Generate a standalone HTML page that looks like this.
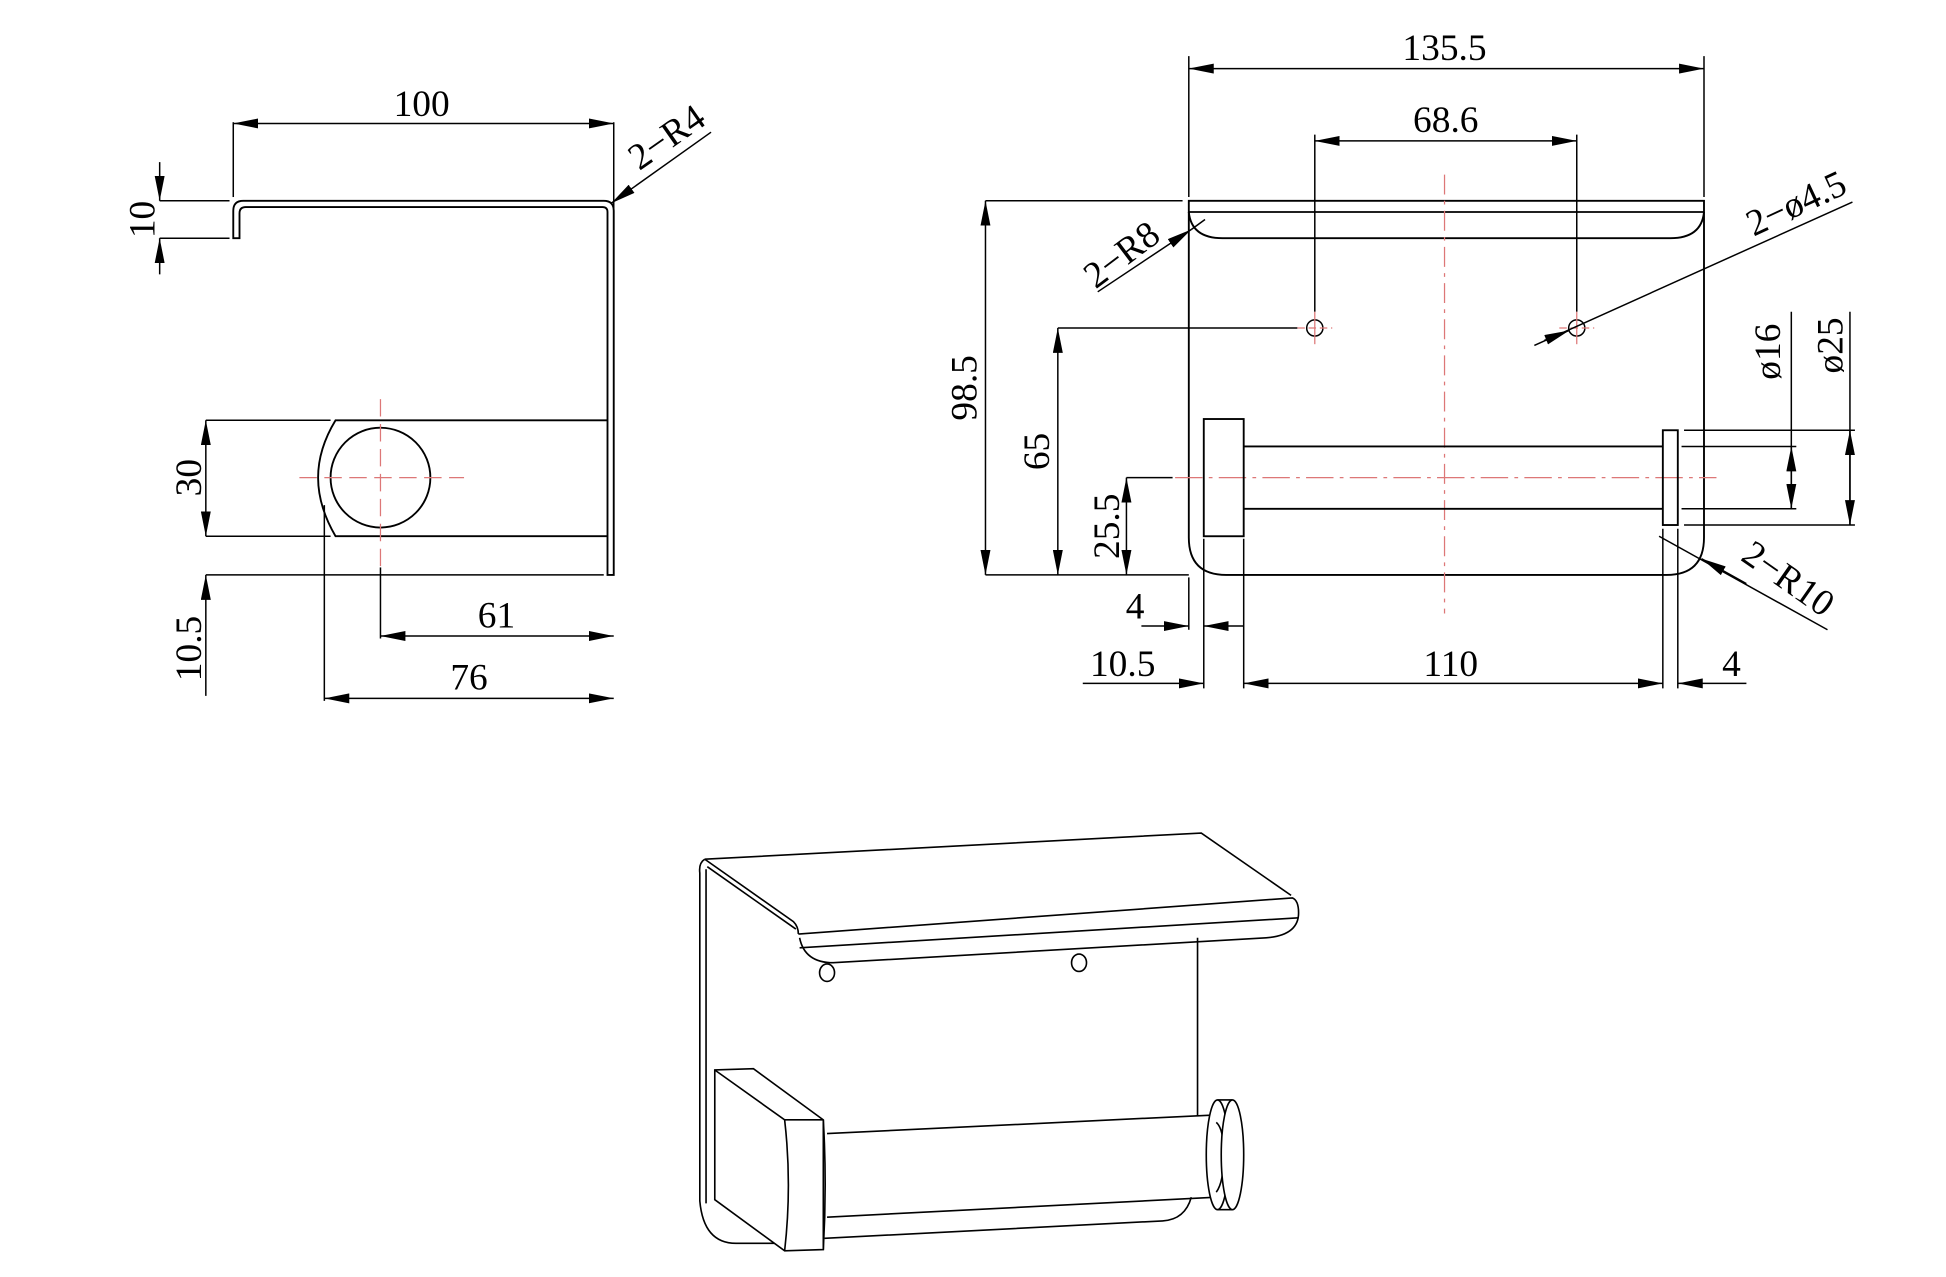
<!DOCTYPE html>
<html><head><meta charset="utf-8"><style>
html,body{margin:0;padding:0;background:#fff;}
svg{display:block;}
</style></head><body>
<svg width="1946" height="1277" viewBox="0 0 1560 1024" preserveAspectRatio="none" xmlns="http://www.w3.org/2000/svg">
<defs>
<marker id="a" viewBox="0 0 20 8" refX="20" refY="4" markerWidth="20" markerHeight="8" orient="auto-start-reverse" markerUnits="userSpaceOnUse"><path d="M0,0 L20,4 L0,8 z" fill="#000"/></marker>
</defs>
<g font-family="'Liberation Serif', 'DejaVu Serif', serif" font-size="30" font-weight="normal" fill="#000" stroke="none">
<text x="338" y="93" text-anchor="middle">100</text>
<text transform="translate(124,176) rotate(-90)" text-anchor="middle">10</text>
<text transform="translate(540,118) rotate(-35)" text-anchor="middle">2−R4</text>
<text transform="translate(161,383) rotate(-90)" text-anchor="middle">30</text>
<text transform="translate(161,520) rotate(-90)" text-anchor="middle">10.5</text>
<text x="398" y="503" text-anchor="middle">61</text>
<text x="376" y="553" text-anchor="middle">76</text>
<text x="1158" y="48" text-anchor="middle">135.5</text>
<text x="1159" y="106" text-anchor="middle">68.6</text>
<text transform="translate(783,311) rotate(-90)" text-anchor="middle">98.5</text>
<text transform="translate(841,362) rotate(-90)" text-anchor="middle">65</text>
<text transform="translate(897,422) rotate(-90)" text-anchor="middle">25.5</text>
<text x="910" y="496" text-anchor="middle">4</text>
<text x="900" y="542" text-anchor="middle">10.5</text>
<text x="1163" y="542" text-anchor="middle">110</text>
<text x="1388" y="542" text-anchor="middle">4</text>
<text transform="translate(1427,282) rotate(-90)" text-anchor="middle">ø16</text>
<text transform="translate(1477,277) rotate(-90)" text-anchor="middle">ø25</text>
<text transform="translate(905,212) rotate(-37)" text-anchor="middle">2−R8</text>
<text transform="translate(1444,172) rotate(-25)" text-anchor="middle">2−ø4.5</text>
<text transform="translate(1428,472) rotate(35)" text-anchor="middle">2−R10</text>
</g>
<g fill="none" stroke="#000" stroke-width="1.2">
<!-- LEFT VIEW -->
<line x1="187" y1="98" x2="187" y2="158"/>
<line x1="492" y1="98" x2="492" y2="458"/>
<line x1="187" y1="99" x2="492" y2="99" marker-start="url(#a)" marker-end="url(#a)"/>
<path d="M187,191 L187,169 Q187,161 195,161 L484,161 Q492,161 492,169 L492,461 L487,461 L487,170 Q487,166 483,166 L197,166 Q192,166 192,171 L192,191 Z" stroke-width="1.5"/>
<line x1="128" y1="161" x2="184" y2="161"/>
<line x1="128" y1="191" x2="184" y2="191"/>
<line x1="128" y1="130" x2="128" y2="161" marker-end="url(#a)"/>
<line x1="128" y1="220" x2="128" y2="191" marker-end="url(#a)"/>
<line x1="490" y1="163" x2="570" y2="106" marker-start="url(#a)"/>
<path d="M487,337 L269,337 Q255,360 255,383 Q255,406 269,430 L487,430" stroke-width="1.5"/>
<circle cx="305" cy="383" r="40" stroke-width="1.5"/>
<g stroke="#d77" stroke-dasharray="14,6" stroke-width="1"><line x1="240" y1="383" x2="372" y2="383"/><line x1="305" y1="320" x2="305" y2="455"/></g>
<line x1="165" y1="337" x2="265" y2="337"/>
<line x1="165" y1="430" x2="265" y2="430"/>
<line x1="165" y1="337" x2="165" y2="430" marker-start="url(#a)" marker-end="url(#a)"/>
<line x1="165" y1="461" x2="484" y2="461"/>
<line x1="165" y1="558" x2="165" y2="461" marker-end="url(#a)"/>
<line x1="305" y1="455" x2="305" y2="512"/>
<line x1="260" y1="405" x2="260" y2="562"/>
<line x1="305" y1="510" x2="492" y2="510" marker-start="url(#a)" marker-end="url(#a)"/>
<line x1="260" y1="560" x2="492" y2="560" marker-start="url(#a)" marker-end="url(#a)"/>

<!-- RIGHT VIEW -->
<line x1="953" y1="45" x2="953" y2="158"/>
<line x1="1366" y1="45" x2="1366" y2="158"/>
<line x1="953" y1="55" x2="1366" y2="55" marker-start="url(#a)" marker-end="url(#a)"/>
<line x1="1054" y1="108" x2="1054" y2="250"/>
<line x1="1264" y1="108" x2="1264" y2="250"/>
<line x1="1054" y1="113" x2="1264" y2="113" marker-start="url(#a)" marker-end="url(#a)"/>
<path d="M953,161 L1366,161 L1366,170 L953,170 Z" stroke-width="1.5"/>
<path d="M953,170 Q955,191 980,191 L1339,191 Q1364,191 1366,170" stroke-width="1.5"/>
<path d="M953,170 L953,431 Q953,461 983,461 L1336,461 Q1366,461 1366,431 L1366,170" stroke-width="1.5"/>
<circle cx="1054" cy="263" r="6.5"/>
<circle cx="1264" cy="263" r="6.5"/>
<g stroke="#d77" stroke-width="1"><line x1="1040" y1="263" x2="1068" y2="263" stroke-dasharray="6,3"/><line x1="1250" y1="263" x2="1278" y2="263" stroke-dasharray="6,3"/><line x1="1054" y1="250" x2="1054" y2="276"/><line x1="1264" y1="250" x2="1264" y2="276"/>
<line x1="1158" y1="140" x2="1158" y2="492" stroke-dasharray="16,5,3,5"/>
<line x1="942" y1="383" x2="1376" y2="383" stroke-dasharray="22,5,3,5"/></g>
<rect x="965" y="336" width="32" height="94" stroke-width="1.5"/>
<line x1="997" y1="358" x2="1333" y2="358" stroke-width="1.5"/>
<line x1="997" y1="408" x2="1333" y2="408" stroke-width="1.5"/>
<rect x="1333" y="345" width="12" height="76" stroke-width="1.5"/>
<line x1="790" y1="161" x2="948" y2="161"/>
<line x1="790" y1="461" x2="953" y2="461"/>
<line x1="790" y1="161" x2="790" y2="461" marker-start="url(#a)" marker-end="url(#a)"/>
<line x1="848" y1="263" x2="1040" y2="263"/>
<line x1="848" y1="263" x2="848" y2="461" marker-start="url(#a)" marker-end="url(#a)"/>
<line x1="903" y1="383" x2="940" y2="383"/>
<line x1="903" y1="383" x2="903" y2="461" marker-start="url(#a)" marker-end="url(#a)"/>
<line x1="965" y1="432" x2="965" y2="552"/>
<line x1="997" y1="432" x2="997" y2="552"/>
<line x1="1333" y1="424" x2="1333" y2="552"/>
<line x1="1345" y1="424" x2="1345" y2="552"/>
<line x1="953" y1="463" x2="953" y2="505"/>
<line x1="915" y1="502" x2="953" y2="502" marker-end="url(#a)"/>
<line x1="997" y1="502" x2="965" y2="502" marker-end="url(#a)"/>
<line x1="868" y1="548" x2="965" y2="548" marker-end="url(#a)"/>
<line x1="997" y1="548" x2="1333" y2="548" marker-start="url(#a)" marker-end="url(#a)"/>
<line x1="1400" y1="548" x2="1345" y2="548" marker-end="url(#a)"/>
<line x1="1348" y1="358" x2="1440" y2="358"/>
<line x1="1348" y1="408" x2="1440" y2="408"/>
<line x1="1350" y1="345" x2="1487" y2="345"/>
<line x1="1350" y1="421" x2="1487" y2="421"/>
<line x1="1436" y1="250" x2="1436" y2="408"/>
<line x1="1436" y1="358" x2="1436" y2="408" marker-start="url(#a)" marker-end="url(#a)"/>
<line x1="1483" y1="250" x2="1483" y2="421"/>
<line x1="1483" y1="345" x2="1483" y2="421" marker-start="url(#a)" marker-end="url(#a)"/>
<line x1="880" y1="234" x2="955" y2="184" marker-end="url(#a)"/>
<line x1="955" y1="184" x2="966" y2="176"/>
<line x1="1230" y1="277" x2="1485" y2="162"/>
<line x1="1238" y1="273" x2="1258" y2="265" marker-end="url(#a)"/>
<line x1="1330" y1="430" x2="1465" y2="505"/>
<line x1="1400" y1="468" x2="1364" y2="448" marker-end="url(#a)"/>

<!-- ISO VIEW -->
<g stroke-width="1.3">
<path d="M565,689 L963,668 L1035,718"/>
<path d="M565,689 L636,739 Q640,743 640,749"/>
<path d="M567,695 L638,745"/>
<path d="M640,749 L1036,720 Q1041,722 1041,732 Q1041,750 1015,752 L668,772 Q645,772 641,752"/>
<line x1="641" y1="760" x2="1041" y2="736"/>
<path d="M565,689 Q560,692 561,700 L561,963 Q564,997 590,997 L625,997"/>
<path d="M566,697 L566,965"/>
<line x1="960" y1="752" x2="960" y2="895"/>
<path d="M955,960 Q950,978 932,979 L661,993"/>
<ellipse cx="663" cy="780" rx="6" ry="7"/>
<ellipse cx="865" cy="772" rx="6" ry="7"/>
<path d="M573,858 L604,857 L660,898 L660,1002 L629,1003 L573,962 Z" fill="#fff"/>
<path d="M629,898 L660,898 M573,858 L629,898 Q635,950 629,1003"/>
<path d="M660,898 Q663,950 660,1002"/>
<line x1="663" y1="909" x2="975" y2="894"/>
<line x1="663" y1="976" x2="975" y2="960"/>
<ellipse cx="976" cy="926" rx="9" ry="44" fill="#fff"/>
<path d="M975,900 Q981,905 981,926 Q981,948 975,956"/>
<line x1="976" y1="882" x2="988" y2="882"/>
<line x1="976" y1="970" x2="988" y2="970"/>
<ellipse cx="988" cy="926" rx="9" ry="44" fill="#fff"/>
</g>
</g>
</svg>
</body></html>
